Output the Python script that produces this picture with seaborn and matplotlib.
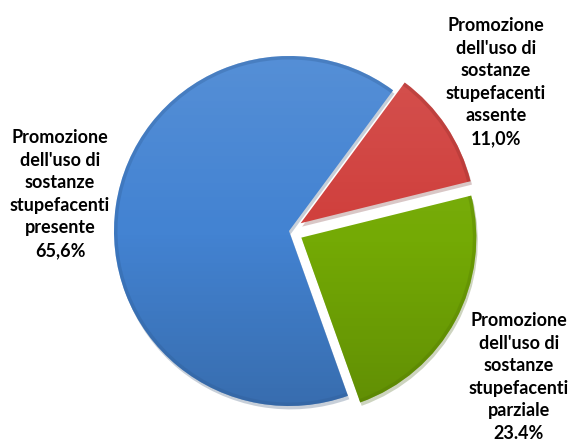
import numpy as np
import matplotlib
matplotlib.use("Agg")
import matplotlib.pyplot as plt
import seaborn as sns

# Slices, in drawing order (clockwise from the upper right)
categorie = [
    "Promozione\ndell'uso di\nsostanze\nstupefacenti\nassente",
    "Promozione\ndell'uso di\nsostanze\nstupefacenti\nparziale",
    "Promozione\ndell'uso di\nsostanze\nstupefacenti\npresente",
]
percentuali = [11.0, 23.4, 65.6]
etichette_valori = ["11,0%", "23.4%", "65,6%"]
colori = ["#d0403d", "#74aa05", "#4383d2"]
esplosione = [0.08, 0.08, 0.0]

sns.set_theme(style="white")
plt.rcParams["font.family"] = ["Lato", "DejaVu Sans"]

W, H = 571, 444
fig = plt.figure(figsize=(W / 100, H / 100), dpi=100)
ax = fig.add_axes([0, 0, 1, 1])

# pie centre (pixels) and radius (pixels); data unit = one radius
cx_px, cy_px, r_px = 289, 231, 175

wedges, _ = ax.pie(
    percentuali,
    colors=colori,
    explode=esplosione,
    startangle=53.5,
    counterclock=False,
    radius=1.0,
    shadow={"ox": 0.006, "oy": -0.014, "shade": 0.5, "alpha": 0.25},
    wedgeprops=dict(linewidth=0),
    frame=True,
)
ax.set_aspect("auto")
ax.axis("off")

# vertical light-to-dark shading plus a soft darker rim on each slice
n = 256
t = np.linspace(0, 1, n)[:, None] * np.ones((1, n))
shade = np.zeros((n, n, 4))
top = t < 0.5
shade[..., :3] = np.where(top[..., None], 1.0, 0.0)
shade[..., 3] = np.where(top, (0.5 - t) * 0.20, (t - 0.5) * 0.34)

for w, c in zip(wedges, colori):
    cx, cy = w.center
    im = ax.imshow(shade, extent=[cx - 1, cx + 1, cy - 1, cy + 1],
                   origin="upper", zorder=w.get_zorder() + 0.1,
                   interpolation="bilinear")
    im.set_clip_path(w)
    rim_col = tuple(np.array(matplotlib.colors.to_rgb(c)) * 0.7)
    rim = matplotlib.patches.Wedge((cx, cy), 1.0, w.theta1, w.theta2,
                                   width=0.02, facecolor=rim_col,
                                   edgecolor="none", alpha=0.3,
                                   zorder=w.get_zorder() + 0.2)
    ax.add_patch(rim)

ax.set_xlim(-cx_px / r_px, (W - cx_px) / r_px)
ax.set_ylim(-(H - cy_px) / r_px, cy_px / r_px)

# labels, placed beside each slice (pixel positions converted to data units)
def px(x, y):
    return (x - cx_px) / r_px, (cy_px - y) / r_px

posizioni = [(496, 82), (519, 377), (60, 194)]
for testo, val, (x, y) in zip(categorie, etichette_valori, posizioni):
    tx, ty = px(x, y)
    ax.text(tx, ty, testo + "\n" + val, ha="center", va="center",
            fontsize=13, fontweight="bold", color="black",
            linespacing=1.4, multialignment="center")

fig.savefig("out.png", dpi=100, facecolor="white")
